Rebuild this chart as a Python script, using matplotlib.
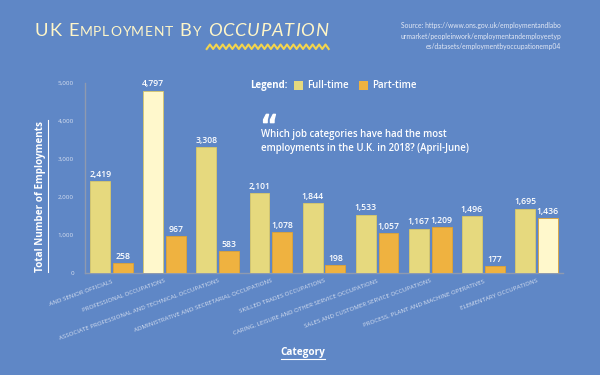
import matplotlib
matplotlib.use('Agg')
import matplotlib.pyplot as plt
from matplotlib.patches import Rectangle
from matplotlib.ticker import FuncFormatter
import numpy as np

categories = [
    "MANAGERS, DIRECTORS AND SENIOR OFFICIALS",
    "PROFESSIONAL OCCUPATIONS",
    "ASSOCIATE PROFESSIONAL AND TECHNICAL OCCUPATIONS",
    "ADMINISTRATIVE AND SECRETARIAL OCCUPATIONS",
    "SKILLED TRADES OCCUPATIONS",
    "CARING, LEISURE AND OTHER SERVICE OCCUPATIONS",
    "SALES AND CUSTOMER SERVICE OCCUPATIONS",
    "PROCESS, PLANT AND MACHINE OPERATIVES",
    "ELEMENTARY OCCUPATIONS",
]
full_time = [2419, 4797, 3308, 2101, 1844, 1533, 1167, 1496, 1695]
part_time = [258, 967, 583, 1078, 198, 1057, 1209, 177, 1436]
y_ticks = [0, 1000, 2000, 3000, 4000, 5000]
highlight_full = [1]
highlight_part = [8]

BG = '#5F87C6'
YEL = '#E6D97E'
ORA = '#EFB240'
PALE = '#FFF8CC'
TXT = '#FFFFFF'
LIGHT = '#D6DFF0'
FONT = 'Open Sans'

W, H = 600, 375
fig = plt.figure(figsize=(6, 3.75), dpi=100)
fig.patch.set_facecolor(BG)

def fx(px):
    return px / W

def fy(py):
    return 1 - py / H

ax = fig.add_axes([fx(85), fy(273), fx(563 - 85), (273 - 83) / H])
ax.set_facecolor('none')
x = np.arange(len(categories))
w = 0.375
off = 0.215
fc_full = [PALE if i in highlight_full else YEL for i in range(len(categories))]
fc_part = [PALE if i in highlight_part else ORA for i in range(len(categories))]
ax.bar(x - off, full_time, w, color=fc_full, edgecolor='#D9C869', linewidth=0.6, zorder=3)
ax.bar(x + off, part_time, w, color=fc_part, edgecolor='#DDA235', linewidth=0.6, zorder=3)
for i in range(len(categories)):
    ax.text(x[i] - off, full_time[i] + 60, f"{full_time[i]:,}", ha='center', va='bottom',
            color=TXT, fontsize=6.2, fontweight='semibold', family=FONT)
    ax.text(x[i] + off, part_time[i] + 60, f"{part_time[i]:,}", ha='center', va='bottom',
            color=TXT, fontsize=6.2, fontweight='semibold', family=FONT)

ax.set_xlim(-0.5, len(categories) - 0.5)
ax.set_ylim(0, 5000)
ax.set_yticks(y_ticks)
ax.yaxis.set_major_formatter(FuncFormatter(lambda v, p: f"{int(v):,}"))
ax.tick_params(axis='y', length=0, pad=8, labelsize=4.5, labelcolor=LIGHT)
ax.set_xticks(x)
ax.set_xticklabels(categories)
ax.tick_params(axis='x', length=0, pad=4, labelsize=4.45, labelcolor=LIGHT)
for lab in ax.get_xticklabels():
    lab.set_rotation(20)
    lab.set_ha('right')
    lab.set_va('top')
    lab.set_rotation_mode('anchor')
    lab.set_family(FONT)
for lab in ax.get_yticklabels():
    lab.set_family(FONT)
for s in ['top', 'right']:
    ax.spines[s].set_visible(False)
for s in ['left', 'bottom']:
    ax.spines[s].set_color('#8E9AB0')
    ax.spines[s].set_linewidth(1.0)

# the reference crops the first category label on its left side
clip = Rectangle((fx(49), 0), 1, 1, transform=fig.transFigure, visible=False)
fig.add_artist(clip)
first = ax.get_xticklabels()[0]
first.set_clip_path(clip)
first.set_clip_on(True)

# title (small caps imitation with letter spacing)
BIG, SMALL, TRACK, SPACE = 13.2, 10.0, 0.8, 6.0
words = [[("U", BIG, 'normal'), ("K", BIG, 'normal')],
         [("E", BIG, 'normal'), ("MPLOYMENT", SMALL, 'normal')],
         [("B", BIG, 'normal'), ("Y", SMALL, 'normal')],
         [("OCCUPATION", BIG, 'italic')]]
renderer = fig.canvas.get_renderer()
cur = 35
occ_x0 = occ_x1 = None
for wi, word in enumerate(words):
    if wi:
        cur += SPACE
    for s, sz, st in word:
        if st == 'italic':
            occ_x0 = cur
        for ch in s:
            t = fig.text(fx(cur), fy(35.5), ch, fontsize=sz, style=st, color='#FFF6C8',
                         family='Lato', ha='left', va='baseline')
            cur += t.get_window_extent(renderer).width + TRACK
        if st == 'italic':
            occ_x1 = cur

# zigzag decoration under OCCUPATION
n = 39
zx = np.linspace(occ_x0 - 1, occ_x1, n)
zy = np.where(np.arange(n) % 2 == 0, 49, 44.5)
fig.add_artist(plt.Line2D(fx(zx), fy(zy), color='#F3D54E', lw=1.5, transform=fig.transFigure))

# source
fig.text(fx(561), fy(36), "Source: https://www.ons.gov.uk/employmentandlabo\n"
         "urmarket/peopleinwork/employmentandemployeetyp\n"
         "es/datasets/employmentbyoccupationemp04",
         ha='right', va='center', multialignment='right', fontsize=4.9,
         color='#E2E8F5', family='Lato', linespacing=1.55)

# legend
fig.text(fx(250), fy(85.5), "Legend:", fontsize=7, fontweight='bold', color=TXT,
         family=FONT, va='center')
fig.add_artist(Rectangle((fx(294), fy(90)), fx(9), 9 / H, transform=fig.transFigure,
                         facecolor=YEL, edgecolor='none'))
fig.text(fx(307), fy(85.5), "Full-time", fontsize=7, color=TXT, family=FONT, va='center',
         fontweight='semibold')
fig.add_artist(Rectangle((fx(359), fy(90)), fx(9), 9 / H, transform=fig.transFigure,
                         facecolor=ORA, edgecolor='none'))
fig.text(fx(372), fy(85.5), "Part-time", fontsize=7, color=TXT, family=FONT, va='center',
         fontweight='semibold')

# decorative quote mark
fig.add_artist(plt.Line2D([fx(269)], [fy(118)], marker='$\\mathbf{\u201c}$', markersize=8.5,
                          color=TXT, linestyle='none', transform=fig.transFigure))
fig.text(fx(261), fy(141.5), "Which job categories have had the most\n"
         "employments in the U.K. in 2018? (April-June)", fontsize=6.9,
         fontweight='semibold', color=TXT, family=FONT, va='center', linespacing=1.4)

# axis titles with underline
yl = fig.text(fx(41), fy(196), "Total Number of Employments", rotation=90, fontsize=7.1,
              fontweight='bold', color=TXT, family=FONT, ha='center', va='center')
xl = fig.text(fx(303), fy(352), "Category", fontsize=7.2, fontweight='bold', color=TXT,
              family=FONT, ha='center', va='center')
fig.canvas.draw()
r = fig.canvas.get_renderer()
b = yl.get_window_extent(r)
fig.add_artist(plt.Line2D([(b.x1 + 1) / W] * 2, [b.y0 / H, b.y1 / H], color=TXT, lw=0.8,
                          transform=fig.transFigure))
b = xl.get_window_extent(r)
fig.add_artist(plt.Line2D([b.x0 / W, b.x1 / W], [(b.y0 - 1) / H] * 2, color=TXT, lw=0.8,
                          transform=fig.transFigure))

fig.savefig('out.png', dpi=100, facecolor=BG)
